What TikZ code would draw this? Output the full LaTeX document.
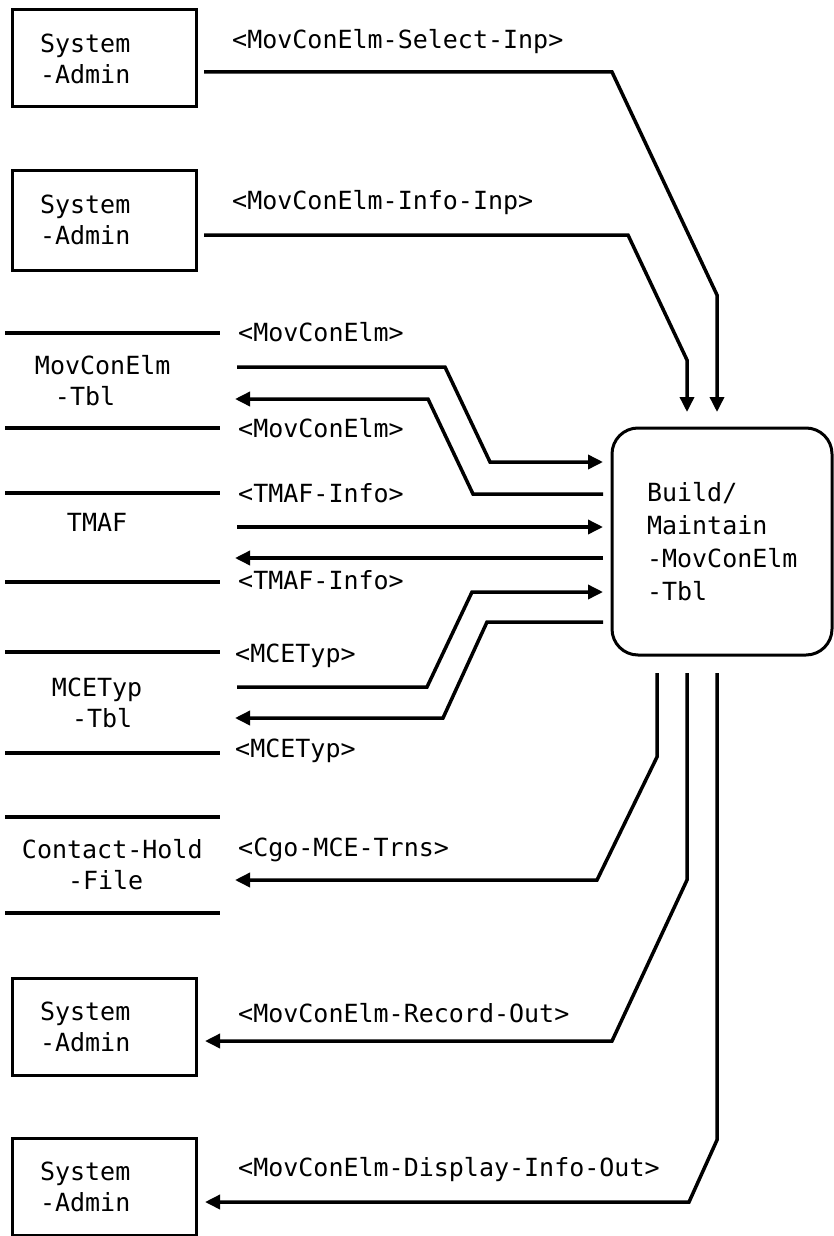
\documentclass[tikz,border=0pt]{standalone}
\usepackage{fontspec}
\setmonofont{DejaVu Sans Mono}
\usepackage{tikz}
\usetikzlibrary{arrows.meta}

\begin{document}
\begin{tikzpicture}[
  x=1pt, y=-1pt,
  font=\ttfamily\fontsize{25}{31}\selectfont,
  >={Triangle[length=15pt,width=14pt]},
  sysbox/.style={rectangle, draw, line width=3pt, outer sep=0pt, minimum height=97pt,
                 text width=128pt, inner xsep=28pt, align=left},
  store/.style={rectangle, outer sep=0pt, text width=215pt, inner xsep=0pt, align=left},
  proc/.style={rectangle, rounded corners=26pt, draw, line width=3pt, outer sep=0pt,
               minimum height=227pt, text width=150pt, inner xsep=35pt, align=left,
               font=\ttfamily\fontsize{25}{33}\selectfont},
  lbl/.style={anchor=base west, inner sep=0pt},
  flow/.style={->, line width=3.5pt},
  storeline/.style={line width=3.5pt},
]
\useasboundingbox (0,0) rectangle (833,1236);

% --- external entities and stores ---
\node[sysbox] (adm1) at (104,58.5)  {System\\-Admin};
\node[sysbox, minimum height=100pt] (adm2) at (104,220) {System\\-Admin};

\node[store, minimum height=95pt]  (tbl1) at (112.5,380.5) {\hspace*{30pt}MovConElm\\\hspace*{50pt}-Tbl};
\node[store, minimum height=89pt]  (tmaf) at (112.5,537.5) {\hspace*{62pt}TMAF\\\mbox{}};
\node[store, minimum height=101pt] (mce)  at (112.5,702.5) {\hspace*{47pt}MCETyp\\\hspace*{67pt}-Tbl};
\node[store, minimum height=96pt]  (chf)  at (112.5,865)   {\hspace*{17pt}Contact-Hold\\\hspace*{63pt}-File};

\node[sysbox] (adm3) at (104,1026.5) {System\\-Admin};
\node[sysbox] (adm4) at (104,1186.5) {System\\-Admin};

\foreach \s in {tbl1,tmaf,mce,chf}
  \draw[storeline] (\s.north west) -- (\s.north east) (\s.south west) -- (\s.south east);

% --- process ---
\node[proc] (bm) at (722,541.5) {Build/\\Maintain\\-MovConElm\\-Tbl};

% --- flow labels ---
\node[lbl] (l1)  at (232,49)   {<MovConElm-Select-Inp>};
\node[lbl] (l2)  at (232,209)  {<MovConElm-Info-Inp>};
\node[lbl] (l3)  at (238,341)  {<MovConElm>};
\node[lbl] (l4)  at (238,437)  {<MovConElm>};
\node[lbl] (l5)  at (238,502)  {<TMAF-Info>};
\node[lbl] (l6)  at (238,589)  {<TMAF-Info>};
\node[lbl] (l7)  at (235,662)  {<MCETyp>};
\node[lbl] (l8)  at (235,757)  {<MCETyp>};
\node[lbl] (l9)  at (238,856)  {<Cgo-MCE-Trns>};
\node[lbl] (l10) at (238,1022) {<MovConElm-Record-Out>};
\node[lbl] (l11) at (238,1176) {<MovConElm-Display-Info-Out>};

% --- controls from above ---
\draw[flow] ([xshift=8pt,yshift=-13.5pt]adm1.east) -- (612,72) -- (717,295)
  -- ([xshift=105pt,yshift=16pt]bm.north west);
\draw[flow] ([xshift=8pt,yshift=-15pt]adm2.east) -- (628,235) -- (687,360)
  -- ([xshift=75pt,yshift=16pt]bm.north west);

% --- stores in and out ---
\draw[flow] ([xshift=17pt,yshift=13.5pt]tbl1.east) -- (445,367) -- (490,462)
  -- ([xshift=-9pt,yshift=-34pt]bm.north west);
\draw[flow] ([xshift=-9pt,yshift=-66pt]bm.north west) -- (473,494) -- (428,399)
  -- ([xshift=15pt,yshift=-18.5pt]tbl1.east);
\draw[flow] ([xshift=17pt,yshift=10.5pt]tmaf.east) -- ([xshift=-9pt,yshift=-99pt]bm.north west);
\draw[flow] ([xshift=-9pt,yshift=-130pt]bm.north west) -- ([xshift=15pt,yshift=-20.5pt]tmaf.east);
\draw[flow] ([xshift=17pt,yshift=15.5pt]mce.east) -- (427,687) -- (472,592)
  -- ([xshift=-9pt,yshift=-164pt]bm.north west);
\draw[flow] ([xshift=-9pt,yshift=-194pt]bm.north west) -- (487,622) -- (443,718)
  -- ([xshift=15pt,yshift=-15.5pt]mce.east);

% --- outputs from below ---
\draw[flow] ([xshift=45pt,yshift=-18pt]bm.south west) -- (657,757) -- (597,880)
  -- ([xshift=15pt,yshift=-15pt]chf.east);
\draw[flow] ([xshift=75pt,yshift=-18pt]bm.south west) -- (687,880) -- (612,1041)
  -- ([xshift=9pt,yshift=-14.5pt]adm3.east);
\draw[flow] ([xshift=105pt,yshift=-18pt]bm.south west) -- (717,1140) -- (689,1202)
  -- ([xshift=9pt,yshift=-15.5pt]adm4.east);

\end{tikzpicture}
\end{document}
